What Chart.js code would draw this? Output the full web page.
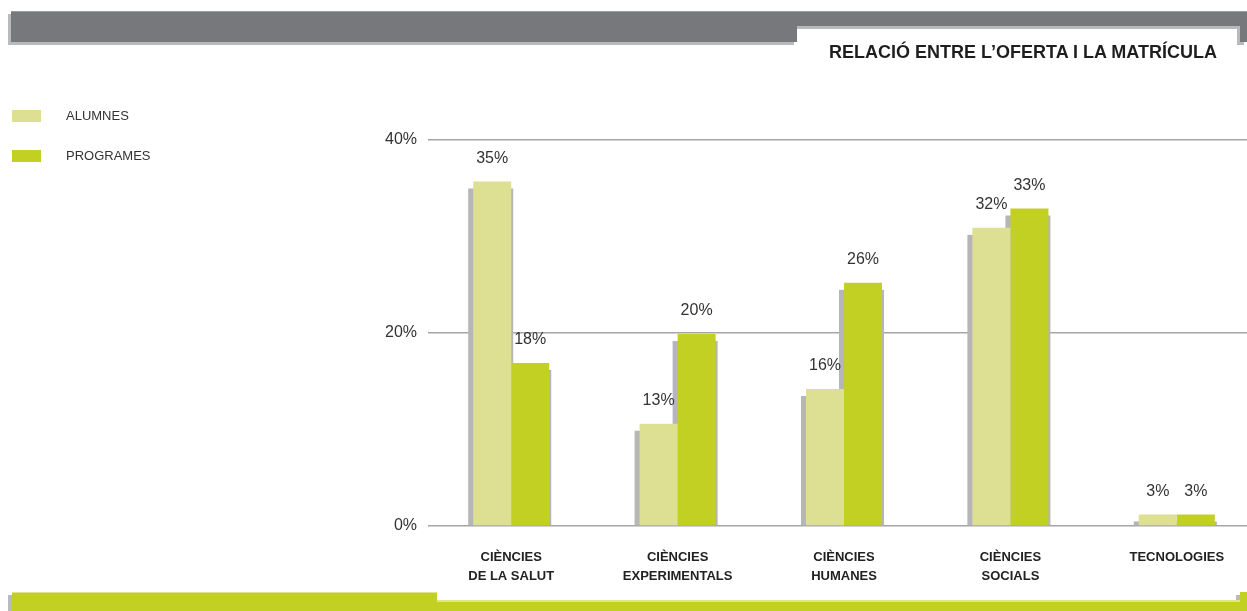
<!DOCTYPE html>
<html>
<head>
<meta charset="utf-8">
<script src="https://cdn.jsdelivr.net/npm/chart.js@4"></script>
<style>
  html, body { margin: 0; padding: 0; background: #fff; overflow: hidden; width: 1247px; height: 611px; }
  body { position: relative; font-family: 'Liberation Sans', Arial, Helvetica, sans-serif; }
  #wrap { position: absolute; left: 0; top: 0; width: 1260px; height: 611px; }
  .title { position: absolute; right: 30px; top: 43px; font-size: 18px; line-height: 18px; font-weight: bold; color: #1e1e1e; white-space: nowrap; }
  .leg { position: absolute; left: 12px; font-size: 13px; color: #333; }
  .leg span.sw { position: absolute; left: 0; top: 0; width: 29px; height: 12px; }
  .leg span.tx { position: absolute; left: 54px; top: -2px; white-space: nowrap; line-height: 16px; }
</style>
</head>
<body>
<div id="wrap"><canvas id="myChart" width="1260" height="611"></canvas></div>
<div class="title">RELACIÓ ENTRE L’OFERTA I LA MATRÍCULA</div>
<div id="legend"></div>
<script>
// categories (two-line tick labels)
const categorias = [
  ['CIÈNCIES', 'DE LA SALUT'],
  ['CIÈNCIES', 'EXPERIMENTALS'],
  ['CIÈNCIES', 'HUMANES'],
  ['CIÈNCIES', 'SOCIALS'],
  'TECNOLOGIES'
];
// bar heights as drawn in the picture (%)
const alumnes = [35.7, 10.6, 14.2, 30.9, 1.2];
const programes = [16.9, 19.9, 25.2, 32.9, 1.2];
// printed value labels
const alumnesLabels = ['35%', '13%', '16%', '32%', '3%'];
const programesLabels = ['18%', '20%', '26%', '33%', '3%'];
const yTicks = [0, 20, 40];

const colAlumnes = '#dde093';
const colProgrames = '#c2cf23';
const colShadow = '#b6b6b9';
const fontFam = "'Liberation Sans', Arial, Helvetica, sans-serif";

/* bandes grises i verdes del marc */
const frame = {
  id: 'frame',
  beforeDraw(chart) {
    const c = chart.ctx;
    c.save();
    // banda superior
    let shape = (dx, dy) => {
      c.beginPath();
      c.moveTo(11 + dx, 11 + dy);
      c.lineTo(1247 + dx, 11 + dy);
      c.lineTo(1247 + dx, 42 + dy);
      c.lineTo(1240 + dx, 42 + dy);
      c.lineTo(1240 + dx, 26 + dy);
      c.lineTo(797 + dx, 26 + dy);
      c.lineTo(797 + dx, 42 + dy);
      c.lineTo(11 + dx, 42 + dy);
      c.closePath();
    };
    c.fillStyle = '#b9babd';
    shape(-3, 3); c.fill();
    c.fillStyle = '#77787b';
    shape(0, 0); c.fill();
    c.fillStyle = '#9a9b9e';
    c.fillRect(11, 11, 1236, 1);

    // banda inferior
    let shape2 = (dx, dy) => {
      c.beginPath();
      c.moveTo(12 + dx, 592 + dy);
      c.lineTo(437 + dx, 592 + dy);
      c.lineTo(437 + dx, 602 + dy);
      c.lineTo(1240 + dx, 602 + dy);
      c.lineTo(1240 + dx, 592 + dy);
      c.lineTo(1260 + dx, 592 + dy);
      c.lineTo(1260 + dx, 620 + dy);
      c.lineTo(12 + dx, 620 + dy);
      c.closePath();
    };
    c.fillStyle = '#b9babd';
    shape2(-4, 3); c.fill();
    c.fillStyle = colProgrames;
    shape2(0, 0); c.fill();
    c.fillStyle = '#dfe58a';
    c.fillRect(12, 592, 425, 1);
    c.fillRect(437, 600, 803, 2);
    c.restore();
  }
};

/* ombra gris darrere de cada barra */
const shadows = {
  id: 'shadows',
  beforeDatasetsDraw(chart) {
    const c = chart.ctx;
    c.save();
    c.fillStyle = colShadow;
    chart.data.datasets.forEach((ds, i) => {
      chart.getDatasetMeta(i).data.forEach(bar => {
        const w = bar.width;
        const top = bar.y + 7;
        if (top < bar.base) c.fillRect(bar.x - w / 2 - 5, top, w + 7, bar.base - top);
      });
    });
    c.restore();
  }
};

/* etiquetes de valor sobre les barres */
const valueLabels = {
  id: 'valueLabels',
  afterDatasetsDraw(chart) {
    const c = chart.ctx;
    const labels = [alumnesLabels, programesLabels];
    c.save();
    c.font = '16px ' + fontFam;
    c.fillStyle = '#333';
    c.textAlign = 'center';
    c.textBaseline = 'middle';
    chart.data.datasets.forEach((ds, i) => {
      chart.getDatasetMeta(i).data.forEach((bar, j) => {
        c.fillText(labels[i][j], bar.x, bar.y - 23);
      });
    });
    c.restore();
  }
};

const ctx = document.getElementById('myChart');
const dataset = {
  labels: categorias,
  datasets: [{
    label: 'ALUMNES',
    data: alumnes,
    backgroundColor: colAlumnes
  }, {
    label: 'PROGRAMES',
    data: programes,
    backgroundColor: colProgrames
  }]
};
const config = {
  type: 'bar',
  data: dataset,
  options: {
    responsive: false,
    devicePixelRatio: 1,
    animation: false,
    layout: { padding: { left: 374, top: 140, right: 0, bottom: 3 } },
    plugins: {
      legend: { display: false },
      tooltip: { enabled: false }
    },
    datasets: {
      bar: { categoryPercentage: 0.457, barPercentage: 1.0, borderWidth: 0 }
    },
    scales: {
      x: {
        grid: { display: false, drawTicks: false },
        border: { display: false },
        ticks: {
          color: '#222',
          font: { family: fontFam, size: 13, weight: 'bold', lineHeight: 1.46 },
          padding: 22,
          maxRotation: 0,
          autoSkip: false
        }
      },
      y: {
        min: 0,
        max: 40,
        afterBuildTicks: (axis) => { axis.ticks = yTicks.map(v => ({ value: v })); },
        grid: { color: '#a5a5a5', lineWidth: 1.5, drawTicks: false },
        border: { display: false },
        ticks: {
          color: '#333',
          font: { family: fontFam, size: 16 },
          padding: 11,
          callback: (v) => v + '%'
        }
      }
    }
  },
  plugins: [frame, shadows, valueLabels]
};
const chart = new Chart(ctx, config);

/* llegenda */
let legendHTML = document.getElementById('legend');
dataset.datasets.forEach((ds, i) => {
  let d = document.createElement('div');
  d.className = 'leg';
  d.style.top = (110 + i * 40) + 'px';
  d.innerHTML = '<span class="sw" style="background:' + ds.backgroundColor + '"></span><span class="tx">' + ds.label + '</span>';
  legendHTML.appendChild(d);
});
</script>
</body>
</html>
